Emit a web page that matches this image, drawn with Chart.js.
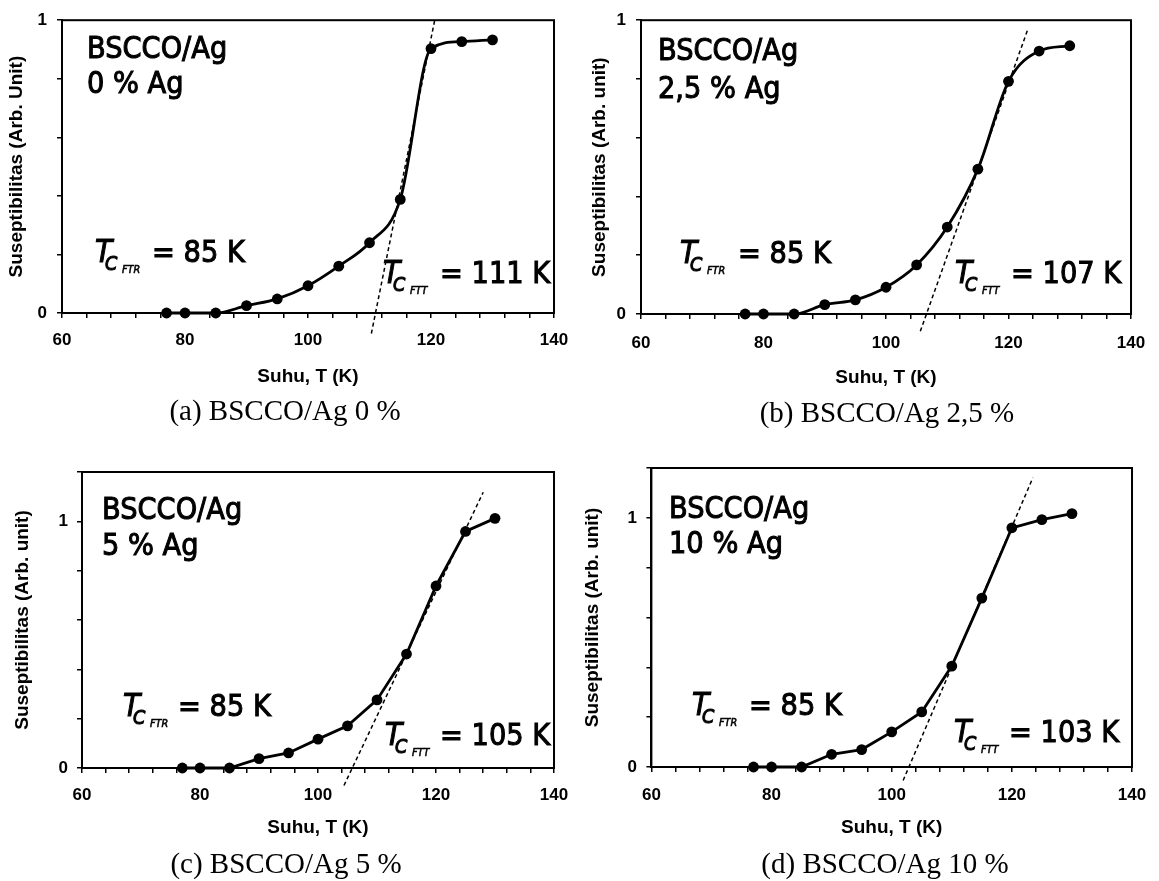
<!DOCTYPE html>
<html><head><meta charset="utf-8">
<script src="https://cdn.jsdelivr.net/npm/chart.js@4.4.1/dist/chart.umd.min.js"></script>
<style>
html,body{margin:0;padding:0;background:#fff;}
#page{position:relative;width:1159px;height:881px;overflow:hidden;background:#fff;}
canvas{position:absolute;}
.t{position:absolute;white-space:nowrap;line-height:1;font-family:"DejaVu Sans","Liberation Sans",sans-serif;color:#000;-webkit-text-stroke:1.1px #000;transform:scaleX(0.88);transform-origin:0 0;}
.cap{position:absolute;white-space:nowrap;line-height:1;font-family:"Liberation Serif","Times New Roman",serif;color:#000;text-align:center;width:400px;font-size:29px;}
</style></head>
<body><div id="page">
<canvas id="ca"></canvas><canvas id="cb"></canvas><canvas id="cc"></canvas><canvas id="cd"></canvas>
</div>
<script>
// ---- data ----
const temperatureK = [77, 80, 85, 90, 95, 100, 105, 110, 115, 120, 125, 130];
const chiAg0  = [0, 0, 0, 0.025, 0.048, 0.093, 0.160, 0.240, 0.388, 0.903, 0.927, 0.933];
const chiAg25 = [0, 0, 0, 0.032, 0.048, 0.091, 0.167, 0.296, 0.493, 0.792, 0.895, 0.913];
const chiAg5  = [0, 0, 0, 0.038, 0.061, 0.117, 0.171, 0.276, 0.462, 0.738, 0.959, 1.012];
const chiAg10 = [0, 0, 0, 0.051, 0.070, 0.141, 0.221, 0.405, 0.678, 0.960, 0.993, 1.017];
// tangent (dotted) lines: end points [T], [chi]
const tangentAg0T  = [110.3, 120.6], tangentAg0Y  = [-0.07, 1.0];
const tangentAg25T = [105.6, 123.1], tangentAg25Y = [-0.059, 0.966];
const tangentAg5T  = [104.4, 128.0], tangentAg5Y  = [-0.071, 1.118];
const tangentAg10T = [101.9, 123.5], tangentAg10Y = [-0.054, 1.161];
const xTickLabels = [60, 80, 100, 120, 140];
const yTickLabels = [0, 1];
const sampleLabels = ['0 % Ag', '2,5 % Ag', '5 % Ag', '10 % Ag'];
const captionLabels = ['(a) BSCCO/Ag 0 %', '(b) BSCCO/Ag 2,5 %', '(c) BSCCO/Ag 5 %', '(d) BSCCO/Ag 10 %'];
const tcFTR = [85, 85, 85, 85];
const tcFTT = [111, 107, 105, 103];
const yTitles = ['Suseptibilitas (Arb. Unit)', 'Suseptibilitas (Arb. unit)', 'Suseptibilitas (Arb. unit)', 'Suseptibilitas (Arb. unit)'];
const xTitle = 'Suhu, T (K)';
const yMaxes = [1, 1, 1.2, 1.2];

// ---- layout (positions only) ----
const panels = [
  {id:'ca', left:0,   top:0,   w:580, h:395, area:{l:62, t:14, r:563, b:313}, yTitleX:17, yLabelRight:47, xLabelY:340, xTitleY:377, smooth:true,
   vals:chiAg0, tT:tangentAg0T, tY:tangentAg0Y,
   ann:{sx:87, l1:58, l2:93, ftr:[95,262], ftrEq:152, ftt:[383,283], fttEq:440, capX:285, capY:420}},
  {id:'cb', left:580, top:0,   w:579, h:395, area:{l:61, t:18, r:556.5, b:314}, yTitleX:20, yLabelRight:46, xLabelY:343, xTitleY:378, smooth:true,
   vals:chiAg25, tT:tangentAg25T, tY:tangentAg25Y,
   ann:{sx:658, l1:60, l2:98, ftr:[680,263], ftrEq:738, ftt:[955,283], fttEq:1011, capX:887, capY:422}},
  {id:'cc', left:0,   top:440, w:580, h:420, area:{l:82, t:32, r:560.6, b:328}, yTitleX:23, yLabelRight:68, xLabelY:355, xTitleY:388, smooth:false,
   vals:chiAg5, tT:tangentAg5T, tY:tangentAg5Y,
   ann:{sx:102, l1:519, l2:555, ftr:[123,716], ftrEq:178, ftt:[385,745], fttEq:440, capX:286, capY:873}},
  {id:'cd', left:580, top:440, w:579, h:420, area:{l:71.4, t:28, r:556.5, b:327}, yTitleX:13, yLabelRight:57, xLabelY:355, xTitleY:388, smooth:false,
   vals:chiAg10, tT:tangentAg10T, tY:tangentAg10Y,
   ann:{sx:669, l1:518, l2:553, ftr:[692,715], ftrEq:749, ftt:[954,742], fttEq:1009, capX:885, capY:873}}
];

const FONT = '"Liberation Sans", Arial, sans-serif';
const TL = 5;
const tickSize = 17, titleSize = 19;

const boxPlugin = {
  id: 'box',
  beforeDatasetsDraw(chart) {
    const {ctx, chartArea: a} = chart;
    ctx.save();
    ctx.strokeStyle = '#000';
    ctx.lineWidth = 2;
    ctx.strokeRect(a.left, a.top, a.right - a.left, a.bottom - a.top);
    ctx.restore();
  }
};

const page = document.getElementById('page');
function addText(cls, html, left, baseline, size, extra) {
  const d = document.createElement('div');
  d.className = cls;
  d.innerHTML = html;
  d.style.left = left + 'px';
  const k = cls === 'cap' ? 0.8375 : 0.846;
  d.style.top = (baseline - k * size) + 'px';
  d.style.fontSize = size + 'px';
  if (extra) Object.assign(d.style, extra);
  page.appendChild(d);
  return d;
}

panels.forEach((p, i) => {
  const cv = document.getElementById(p.id);
  cv.width = p.w; cv.height = p.h;
  cv.style.left = p.left + 'px'; cv.style.top = p.top + 'px';
  cv.style.width = p.w + 'px'; cv.style.height = p.h + 'px';
  const tlh = tickSize * 1.2, ttlh = titleSize * 1.2;
  const mainData = temperatureK.map((t, j) => ({x: t, y: p.vals[j]}));
  const tanData = p.tT.map((t, j) => ({x: t, y: p.tY[j]}));
  new Chart(cv, {
    type: 'line',
    data: {
      datasets: [
        {data: mainData, borderColor: '#000', backgroundColor: '#000', borderWidth: 2.8,
         pointRadius: 5.4, pointHoverRadius: 5.4, pointBorderWidth: 0, clip: false,
         cubicInterpolationMode: p.smooth ? 'monotone' : 'default', tension: 0},
        {data: tanData, borderColor: '#000', borderWidth: 1.5, borderDash: [4, 3],
         pointRadius: 0, clip: false, tension: 0}
      ]
    },
    options: {
      responsive: false, animation: false, devicePixelRatio: 1,
      layout: {autoPadding: false, padding: {left: 0, top: p.area.t, right: p.w - p.area.r, bottom: 0}},
      plugins: {legend: {display: false}, tooltip: {enabled: false}},
      events: [],
      scales: {
        x: {
          type: 'linear', min: 60, max: 140,
          afterFit: s => { s.height = p.h - p.area.b; },
          ticks: {stepSize: 4, autoSkip: false, maxRotation: 0, minRotation: 0, color: '#000',
                  font: {family: FONT, size: tickSize, weight: 'bold'},
                  padding: p.xLabelY - p.area.b - TL - tlh / 2,
                  callback: v => xTickLabels.includes(Math.round(v)) && Math.abs(v - Math.round(v)) < 1e-6 ? String(Math.round(v)) : ''},
          grid: {drawOnChartArea: false, drawTicks: true, tickLength: TL, color: '#000', lineWidth: 1.5},
          border: {color: '#000', width: 2},
          title: {display: true, text: xTitle, color: '#000', font: {family: FONT, size: titleSize, weight: 'bold'},
                  padding: {top: 0, bottom: p.h - p.xTitleY - ttlh / 2}}
        },
        y: {
          type: 'linear', min: 0, max: yMaxes[i],
          afterFit: s => { s.width = p.area.l; },
          ticks: {stepSize: 0.2, autoSkip: false, color: '#000',
                  font: {family: FONT, size: tickSize, weight: 'bold'},
                  padding: p.area.l - TL - p.yLabelRight,
                  callback: v => { const r = Math.round(v * 1000) / 1000; return yTickLabels.includes(r) ? String(r) : ''; }},
          grid: {drawOnChartArea: false, drawTicks: true, tickLength: TL, color: '#000', lineWidth: 1.5},
          border: {color: '#000', width: 2},
          title: {display: true, text: yTitles[i], color: '#000', font: {family: FONT, size: titleSize, weight: 'bold'},
                  padding: {top: p.yTitleX - ttlh / 2, bottom: 0}}
        }
      }
    },
    plugins: [boxPlugin]
  });

  // annotations (real text)
  const a = p.ann;
  addText('t', 'BSCCO/Ag', a.sx, a.l1, 31);
  addText('t', sampleLabels[i], a.sx, a.l2, 31);
  // T_C_FTR
  addText('t', '<i>T</i>', a.ftr[0], a.ftr[1], 32);
  addText('t', '<i>C</i>', a.ftr[0] + 10, a.ftr[1] + 8, 20);
  addText('t', '<i>FTR</i>', a.ftr[0] + 27, a.ftr[1] + 11, 11, {WebkitTextStroke: '0.6px #000'});
  addText('t', '= ' + tcFTR[i] + ' K', a.ftrEq, a.ftr[1], 31);
  // T_C_FTT
  addText('t', '<i>T</i>', a.ftt[0], a.ftt[1], 32);
  addText('t', '<i>C</i>', a.ftt[0] + 10, a.ftt[1] + 8, 20);
  addText('t', '<i>FTT</i>', a.ftt[0] + 27, a.ftt[1] + 11, 11, {WebkitTextStroke: '0.6px #000'});
  addText('t', '= ' + tcFTT[i] + ' K', a.fttEq, a.ftt[1], 31);
  // caption
  addText('cap', captionLabels[i], a.capX - 200, a.capY, 29);
});
</script>
</body></html>
